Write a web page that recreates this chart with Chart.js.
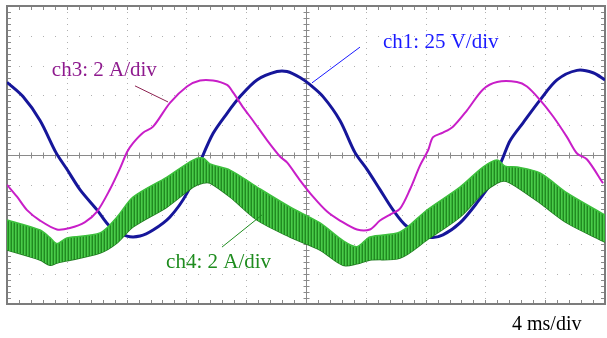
<!DOCTYPE html>
<html>
<head>
<meta charset="utf-8">
<script src="https://cdn.jsdelivr.net/npm/chart.js@4"></script>
<style>
  body { margin: 0; background: #fff; }
  canvas { display: block; }
</style>
</head>
<body>
<canvas id="scope" width="607" height="338"></canvas>
<script>
// ch1: grid voltage (V), 25 V/div
const ch1Time = [0, 1.07, 2.21, 3.28, 4.01, 4.88, 6.02, 6.89, 8.03, 8.90, 9.77, 10.90, 12.04, 12.91, 13.78, 14.72, 15.59, 16.72, 18.06, 18.73,
                 19.60, 20.27, 21.14, 22.27, 23.28, 24.08, 24.95, 25.82, 26.76, 28.29, 29.16, 30.30, 31.44, 32.51, 33.18, 33.65, 34.52, 35.65, 36.79, 38.13,
                 39.20, 40.0];
const ch1Volts = [61, 49, 29, 2, -12, -29, -46, -60, -68, -68, -63, -52, -32, -6, 18, 35, 49, 63, 70, 70,
                  65, 59, 49, 29, 2, -12, -29, -46, -60, -69, -67, -57, -40, -21, -2, 12, 27, 46, 63, 71,
                  69, 63];

// ch3: current (A), 2 A/div
const ch3Time = [0, 0.67, 1.34, 2.21, 3.34, 4.21, 5.22, 6.02, 6.89, 7.56, 8.03, 8.43, 9.10, 9.77, 10.90, 12.04, 12.91, 13.78, 14.72, 15.12,
                 15.79, 16.46, 17.39, 18.26, 18.73, 19.60, 20.47, 21.41, 22.27, 23.41, 24.28, 24.95, 25.62, 26.29, 26.96, 27.63, 28.16, 28.50, 29.16, 29.83,
                 30.77, 31.84, 32.78, 34.11, 34.78, 35.65, 36.52, 37.46, 38.13, 38.80, 39.87];
const ch3Amps = [-2.0, -2.8, -3.7, -4.4, -5.0, -4.9, -4.5, -3.8, -2.3, -0.9, 0.2, 0.8, 1.5, 1.9, 3.5, 4.6, 5.0, 5.0, 4.7, 4.2,
                 3.2, 2.3, 1.0, -0.1, -0.5, -1.7, -2.8, -3.8, -4.4, -5.0, -5.0, -4.4, -4.0, -3.6, -2.3, -0.7, 0.3, 1.2, 1.5, 1.9,
                 3.0, 4.4, 4.9, 4.9, 4.6, 3.7, 2.6, 1.2, 0.1, -0.3, -1.9];

// ch4: current (A), 2 A/div - switching ripple band, upper and lower envelope
const ch4Time = [0, 2.21, 2.88, 3.34, 4.01, 6.22, 7.36, 8.43, 10.70, 12.44, 13.11, 13.58, 14.92, 16.72, 18.93,
                 20.94, 22.48, 23.41, 24.28, 26.29, 28.09, 30.30, 31.84, 32.78, 33.31, 34.11, 35.65, 37.46, 40.0];
const ch4Upper = [-4.36, -5.03, -5.55, -5.95, -5.57, -5.23, -4.16, -2.82, -1.48, -0.34, -0.20, -0.60, -1.01, -2.15, -3.49,
                  -4.56, -5.75, -6.15, -5.50, -5.17, -3.69, -2.15, -0.81, -0.34, -0.75, -0.81, -1.21, -2.55, -4.03];
const ch4Lower = [-6.38, -7.05, -7.40, -7.25, -7.10, -6.58, -5.90, -4.83, -3.49, -2.15, -1.88, -1.88, -2.82, -4.36, -5.50,
                  -6.38, -7.40, -7.30, -7.05, -6.91, -5.70, -4.16, -2.55, -1.88, -1.75, -2.15, -3.22, -4.56, -5.84];

// screen: 10 x 10 divisions
const timePerDiv = 4;   // ms
const voltsPerDiv = 25; // ch1
const ampsPerDiv = 2;   // ch3, ch4

function pts(xs, ys) {
    return xs.map((x, i) => ({ x: x, y: ys[i] }));
}

// fine striped fill for the ripple band
function ripplePattern() {
    const c = document.createElement('canvas');
    c.width = 3; c.height = 1;
    const g = c.getContext('2d');
    const cols = ['#4acb4a', '#36b036', '#218a21'];
    cols.forEach((col, i) => { g.fillStyle = col; g.fillRect(i, 0, 1, 1); });
    return g.createPattern(c, 'repeat');
}

// scope graticule: dotted grid, centre cross and frame with minor ticks
const graticule = {
    id: 'graticule',
    beforeDatasetsDraw(chart) {
        const ctx = chart.ctx;
        const xs = chart.scales.x, ys = chart.scales.yA;
        const px = v => Math.round(xs.getPixelForValue(v));
        const py = v => Math.round(ys.getPixelForValue(v));
        const xMin = 0, xMax = 10 * timePerDiv, yMin = -5 * ampsPerDiv, yMax = 5 * ampsPerDiv;
        const xMinor = timePerDiv / 5, yMinor = ampsPerDiv / 5;
        ctx.save();
        ctx.fillStyle = '#b0b0b0';
        for (let i = 1; i < 10; i++) {
            if (i === 5) continue;
            const gx = px(i * timePerDiv);
            for (let j = 1; j < 50; j++) ctx.fillRect(gx, py(yMin + j * yMinor), 1, 1);
            const gy = py(yMin + i * ampsPerDiv);
            for (let j = 1; j < 50; j++) ctx.fillRect(px(j * xMinor), gy, 1, 1);
        }
        // centre cross
        ctx.strokeStyle = '#8a8a8a';
        ctx.lineWidth = 1;
        const cx = px(xMax / 2) + 0.5, cy = py(0) + 0.5;
        ctx.beginPath();
        ctx.moveTo(px(xMin), cy); ctx.lineTo(px(xMax), cy);
        ctx.moveTo(cx, py(yMax)); ctx.lineTo(cx, py(yMin));
        for (let j = 1; j < 50; j++) {
            const tx = px(j * xMinor) + 0.5;
            ctx.moveTo(tx, cy - 3); ctx.lineTo(tx, cy + 3);
            const ty = py(yMin + j * yMinor) + 0.5;
            ctx.moveTo(cx - 3, ty); ctx.lineTo(cx + 3, ty);
        }
        // frame ticks
        const l = px(xMin), r = px(xMax), t = py(yMax), b = py(yMin);
        for (let j = 1; j < 50; j++) {
            const tx = px(j * xMinor) + 0.5;
            ctx.moveTo(tx, t); ctx.lineTo(tx, t + 4);
            ctx.moveTo(tx, b); ctx.lineTo(tx, b - 4);
            const ty = py(yMin + j * yMinor) + 0.5;
            ctx.moveTo(l, ty); ctx.lineTo(l + 4, ty);
            ctx.moveTo(r, ty); ctx.lineTo(r - 4, ty);
        }
        ctx.stroke();
        ctx.strokeStyle = '#7c7c7c';
        ctx.lineWidth = 2;
        ctx.strokeRect(l, t, r - l, b - t);
        ctx.restore();
    }
};

// channel labels with leader lines (positions in ms / A)
const labels = [
    { text: 'ch3: 2 A/div', color: '#8e1a8e', x: 3.0, y: 5.3, size: 21, line: [8.56, 4.64, 10.77, 3.56], lineColor: '#8b2050' },
    { text: 'ch1: 25 V/div', color: '#1a1aff', x: 25.15, y: 7.18, size: 21, line: [23.61, 7.24, 20.40, 4.84], lineColor: '#1a1aff' },
    { text: 'ch4: 2 A/div', color: '#1e8c1e', x: 10.64, y: -7.58, size: 21, line: [14.38, -6.18, 17.06, -4.02], lineColor: '#1e8c1e' },
    { text: '4 ms/div', color: '#000000', x: 33.78, y: -11.74, size: 20, line: null }
];

const annotate = {
    id: 'annotate',
    afterDatasetsDraw(chart) {
        const ctx = chart.ctx;
        const xs = chart.scales.x, ys = chart.scales.yA;
        ctx.save();
        ctx.textBaseline = 'alphabetic';
        labels.forEach(lb => {
            if (lb.line) {
                ctx.strokeStyle = lb.lineColor;
                ctx.lineWidth = 1;
                ctx.beginPath();
                ctx.moveTo(xs.getPixelForValue(lb.line[0]), ys.getPixelForValue(lb.line[1]));
                ctx.lineTo(xs.getPixelForValue(lb.line[2]), ys.getPixelForValue(lb.line[3]));
                ctx.stroke();
            }
            ctx.font = lb.size + 'px "Liberation Serif", "Times New Roman", serif';
            ctx.fillStyle = lb.color;
            ctx.fillText(lb.text, xs.getPixelForValue(lb.x), ys.getPixelForValue(lb.y));
        });
        ctx.restore();
    }
};

const ctx = document.getElementById('scope').getContext('2d');
const chart = new Chart(ctx, {
    type: 'line',
    data: {
        datasets: [
            {
                label: 'ch4 upper',
                data: pts(ch4Time, ch4Upper),
                yAxisID: 'yA',
                borderColor: '#3cc03c',
                borderWidth: 1.5,
                backgroundColor: ripplePattern(),
                fill: '+1',
                tension: 0.3,
                pointRadius: 0
            },
            {
                label: 'ch4 lower',
                data: pts(ch4Time, ch4Lower),
                yAxisID: 'yA',
                borderColor: '#1f7a1f',
                borderWidth: 1.5,
                fill: false,
                tension: 0.3,
                pointRadius: 0
            },
            {
                label: 'ch3',
                data: pts(ch3Time, ch3Amps),
                yAxisID: 'yA',
                borderColor: '#c81ec8',
                borderWidth: 2,
                fill: false,
                tension: 0.3,
                pointRadius: 0
            },
            {
                label: 'ch1',
                data: pts(ch1Time, ch1Volts),
                yAxisID: 'yV',
                borderColor: '#16169a',
                borderWidth: 3,
                fill: false,
                tension: 0.3,
                pointRadius: 0
            }
        ]
    },
    options: {
        responsive: false,
        animation: false,
        layout: { padding: { left: 7, top: 6, right: 2, bottom: 34 } },
        plugins: {
            legend: { display: false },
            tooltip: { enabled: false }
        },
        scales: {
            x: { type: 'linear', min: 0, max: 10 * timePerDiv, display: false },
            yA: { min: -5 * ampsPerDiv, max: 5 * ampsPerDiv, display: false },
            yV: { min: -5 * voltsPerDiv, max: 5 * voltsPerDiv, display: false }
        }
    },
    plugins: [graticule, annotate]
});
</script>
</body>
</html>
